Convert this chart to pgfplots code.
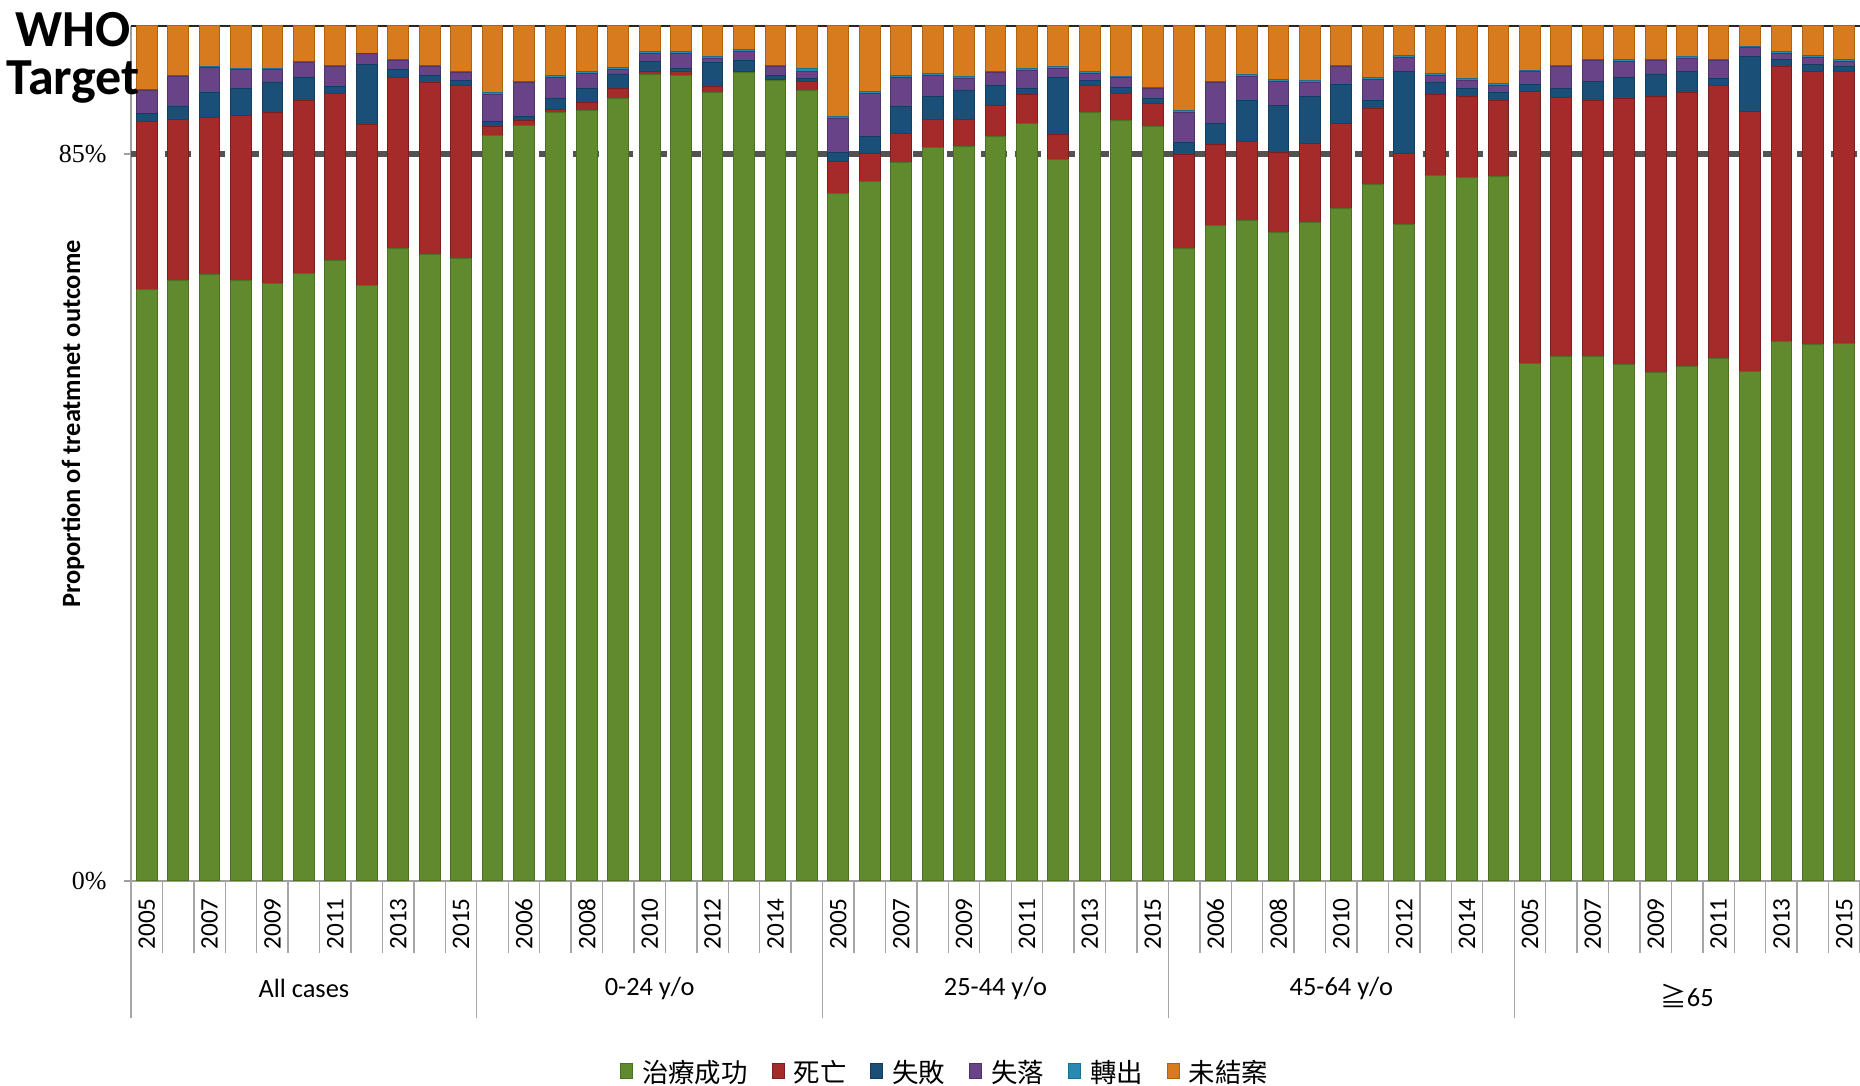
\documentclass[border=0pt]{standalone}
\usepackage{pgfplots}
\pgfplotsset{compat=1.18}
\usepackage{pgfplotstable}
\usepackage{fontspec}
\setmainfont{Carlito}
\newfontfamily\serif{Liberation Serif}
\newfontfamily\cjk{Noto Sans CJK TC}

\definecolor{cSucc}{HTML}{6E9C34}\definecolor{cSuccD}{HTML}{4A7222}
\definecolor{cDeath}{HTML}{BC3131}\definecolor{cDeathD}{HTML}{7A1E1E}
\definecolor{cFail}{HTML}{1D5A88}\definecolor{cFailD}{HTML}{113E60}
\definecolor{cLost}{HTML}{764C9A}\definecolor{cLostD}{HTML}{4F346B}
\definecolor{cTrans}{HTML}{2F9CCB}\definecolor{cTransD}{HTML}{1D6F92}
\definecolor{cOpen}{HTML}{F58C22}\definecolor{cOpenD}{HTML}{B0620F}

\newcommand\lbl{\fontsize{13.2}{13.2}\selectfont}
% one bar series: slightly lighter in the middle, slightly darker at both edges
\pgfplotsset{
  outcome/.style 2 args={left color=#1!88!black, middle color=#1!93!white, right color=#1!88!black,
                         draw=#2, line width=0.5pt},
}

% treatment outcome (%) by group and year: success, death, failure, lost, transfer, not closed
\pgfplotstableread{
x  G    R    B   P   T   O
0  69.1 19.7 0.9 2.7 0.1 7.5
1  70.2 18.8 1.5 3.6 0.1 5.8
2  70.9 18.4 2.9 2.9 0.1 4.8
3  70.2 19.3 3.2 2.2 0.1 5.0
4  69.9 20.0 3.4 1.6 0.1 5.0
5  71.0 20.2 2.8 1.7 0.1 4.2
6  72.5 19.6 0.8 2.3 0.1 4.7
7  69.6 18.8 7.1 1.2 0.1 3.2
8  74.0 20.0 0.9 1.0 0.2 3.9
9  73.3 20.0 0.9 1.0 0.1 4.7
10 72.8 20.2 0.6 0.9 0.2 5.3
11 87.2 1.0  0.6 3.2 0.2 7.8
12 88.3 0.6  0.5 3.9 0.2 6.5
13 89.9 0.3  1.3 2.5 0.2 5.8
14 90.1 0.9  1.7 1.7 0.2 5.4
15 91.5 1.1  1.7 0.6 0.2 4.9
16 94.3 0.4  1.1 1.0 0.2 3.0
17 94.2 0.5  0.3 1.8 0.2 3.0
18 92.2 0.7  2.8 0.5 0.2 3.6
19 94.5 0.2  1.2 1.1 0.2 2.8
20 93.6 0.1  0.5 1.0 0.2 4.6
21 92.4 1.1  0.3 0.8 0.4 5.0
22 80.4 3.7  1.1 4.0 0.2 10.6
23 81.8 3.3  2.0 5.0 0.2 7.7
24 84.0 3.4  3.1 3.5 0.2 5.8
25 85.8 3.2  2.7 2.5 0.2 5.6
26 85.9 3.1  3.4 1.4 0.3 5.9
27 87.1 3.6  2.3 1.5 0.2 5.3
28 88.6 3.3  0.8 2.1 0.2 5.0
29 84.4 2.9  6.6 1.1 0.2 4.8
30 89.9 3.1  0.6 0.8 0.2 5.4
31 88.9 3.2  0.7 1.1 0.2 5.9
32 88.2 2.7  0.6 1.1 0.2 7.2
33 73.9 11.0 1.5 3.5 0.2 9.9
34 76.6 9.5  2.5 4.7 0.2 6.5
35 77.2 9.3  4.7 2.9 0.2 5.7
36 75.8 9.4  5.5 2.8 0.2 6.3
37 77.0 9.2  5.5 1.7 0.2 6.4
38 78.6 10.0 4.5 2.1 0.2 4.6
39 81.4 8.9  1.0 2.4 0.2 6.1
40 76.7 8.4  9.6 1.6 0.2 3.5
41 82.5 9.5  1.3 0.9 0.2 5.6
42 82.2 9.5  1.0 0.9 0.2 6.2
43 82.4 8.9  0.9 0.8 0.2 6.8
44 60.5 31.8 0.8 1.5 0.2 5.2
45 61.3 30.3 1.1 2.5 0.2 4.6
46 61.3 30.0 2.2 2.4 0.2 3.9
47 60.4 31.1 2.5 1.8 0.2 4.0
48 59.5 32.2 2.6 1.6 0.2 3.9
49 60.2 32.0 2.5 1.5 0.2 3.6
50 61.1 31.9 0.8 2.1 0.2 3.9
51 59.6 30.4 6.4 1.0 0.2 2.4
52 63.1 32.1 0.8 0.8 0.2 3.0
53 62.7 31.9 0.9 0.8 0.2 3.5
54 62.8 31.9 0.5 0.6 0.2 4.0
}\outcomes

\begin{document}
\begin{tikzpicture}[x=1pt,y=1pt]
\path[use as bounding box] (0,0) rectangle (930,543);
\begin{axis}[
  at={(65.5pt,102.5pt)}, anchor=south west,
  scale only axis, width=864.5pt, height=427.65pt,
  ybar stacked, bar width=0.66,
  xmin=-0.5, xmax=54.5, ymin=0, ymax=100,
  clip=false,
  axis x line*=bottom, axis y line*=left,
  axis line style={draw=gray!75, line width=0.9pt, -},
  xtick={0,2,...,54},
  xticklabels={2005,2007,2009,2011,2013,2015,2006,2008,2010,2012,2014,
               2005,2007,2009,2011,2013,2015,2006,2008,2010,2012,2014,
               2005,2007,2009,2011,2013,2015},
  xtick style={draw=none},
  xticklabel style={rotate=90, anchor=east, inner sep=0pt, font=\fontsize{12.6}{12.6}\selectfont},
  xticklabel shift=8.5pt,
  ytick={0}, yticklabels={\mbox{\serif\fontsize{13}{13}\selectfont 0\%}},
  extra y ticks={85}, extra y tick labels={\mbox{\serif\fontsize{13}{13}\selectfont 85\%}},
  extra y tick style={grid=major,
    major grid style={draw=black!68, line width=3pt, dash pattern=on 13pt off 4pt}},
  ytick align=outside, major tick length=3.5pt,
  ytick style={draw=gray!75, line width=0.9pt},
  yticklabel style={inner sep=0pt, anchor=east},
  yticklabel shift=8.5pt,
  legend style={at={(0.4714,-0.2245)}, anchor=center, draw=none, fill=none,
    font=\cjk\lbl, inner sep=0pt,
    /tikz/every odd column/.append style={column sep=2.5pt},
    /tikz/every even column/.append style={column sep=10pt}},
  legend columns=6,
  legend image code/.code={\path[#1, line width=0.5pt] (0pt,-2.5pt) rectangle (6pt,5pt);},
]
\addplot[outcome={cSucc}{cSuccD}] table[x=x,y=G]{\outcomes};
\addplot[outcome={cDeath}{cDeathD}] table[x=x,y=R]{\outcomes};
\addplot[outcome={cFail}{cFailD}] table[x=x,y=B]{\outcomes};
\addplot[outcome={cLost}{cLostD}] table[x=x,y=P]{\outcomes};
\addplot[outcome={cTrans}{cTransD}] table[x=x,y=T]{\outcomes};
\addplot[outcome={cOpen}{cOpenD}] table[x=x,y=O]{\outcomes};
\legend{治療成功,死亡,失敗,失落,轉出,未結案}

% plot-area top edge
\draw[black!85, line width=1pt] (rel axis cs:0,1) -- (rel axis cs:1,1);
% separators under the year labels
\pgfplotsinvokeforeach{-0.5,0.5,...,54.5}{\draw[gray!70, line width=0.7pt] (axis cs:#1,0) -- ++(0pt,-36pt);}
% group separators
\pgfplotsinvokeforeach{-0.5,10.5,21.5,32.5,43.5}{\draw[gray!70, line width=0.7pt] (axis cs:#1,0) -- ++(0pt,-68.5pt);}
% group names
\node[font=\lbl, yshift=-53.5pt] at (axis cs:5,0) {All cases};
\node[font=\lbl, yshift=-53.5pt] at (axis cs:16,0) {0-24 y/o};
\node[font=\lbl, yshift=-53.5pt] at (axis cs:27,0) {25-44 y/o};
\node[font=\lbl, yshift=-53.5pt] at (axis cs:38,0) {45-64 y/o};
\node[font=\lbl, yshift=-57.5pt] at (axis cs:49,0) {{\cjk ≧}65};
\end{axis}
\node[rotate=90, font=\bfseries\lbl] at (36.5,331) {Proportion of treatmnet outcome};
\node[anchor=base, inner sep=0pt, font=\bfseries\fontsize{26}{26}\selectfont] at (36.5,519.5) {WHO};
\node[anchor=base, inner sep=0pt, font=\bfseries\fontsize{26}{26}\selectfont] at (36.5,495.5) {Target};
\end{tikzpicture}
\end{document}
